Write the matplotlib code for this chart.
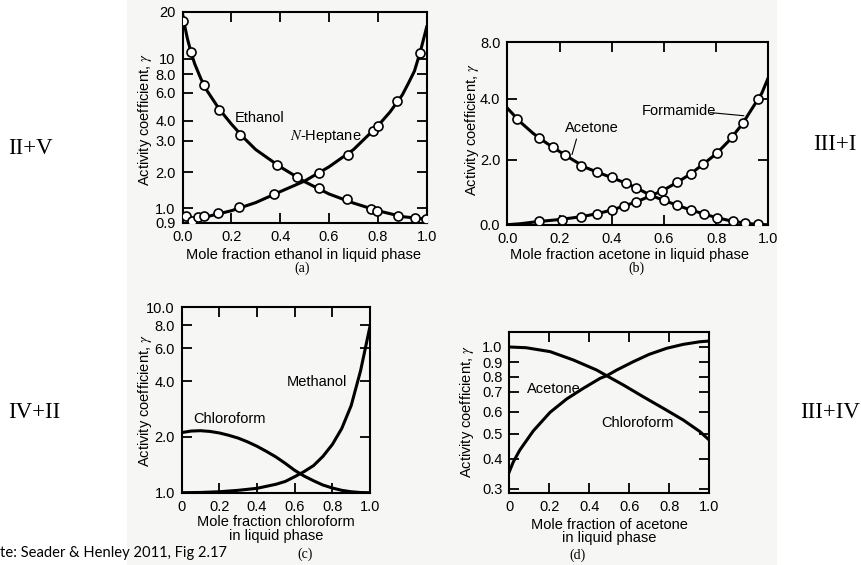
import numpy as np
import matplotlib
matplotlib.use("Agg")
import matplotlib.pyplot as plt
from matplotlib.patches import Rectangle

plt.rcParams['font.family'] = ['Liberation Sans', 'DejaVu Sans']
plt.rcParams['mathtext.fontset'] = 'stix'

W, H = 861, 565

# ---------------- data ----------------
# (a) ethanol / n-heptane
a_x_eth_pts = [0.0, 0.034, 0.089, 0.151, 0.236, 0.389, 0.468, 0.559, 0.673, 0.771, 0.798, 0.881, 0.953, 0.996]
a_g_eth_pts = [17.4, 11.0, 6.77, 4.69, 3.27, 2.19, 1.81, 1.46, 1.18, 0.99, 0.981, 0.945, 0.934, 0.926]
a_x_hep_pts = [0.015, 0.038, 0.063, 0.086, 0.147, 0.233, 0.376, 0.559, 0.679, 0.781, 0.80, 0.88, 0.973]
a_g_hep_pts = [0.945, 0.915, 0.937, 0.945, 0.963, 1.013, 1.30, 1.95, 2.50, 3.46, 3.72, 5.35, 10.9]
a_x_eth_curve = [0.0, 0.01, 0.02, 0.035, 0.05, 0.075, 0.1, 0.15, 0.2, 0.25, 0.3, 0.4, 0.5, 0.6, 0.7, 0.8, 0.9, 1.0]
a_g_eth_curve = [19.5, 16.0, 13.5, 11.0, 9.3, 7.46, 6.23, 4.76, 3.83, 3.15, 2.68, 2.14, 1.66, 1.31, 1.10, 0.981, 0.941, 0.925]
a_x_hep_curve = [0.0, 0.05, 0.1, 0.2, 0.3, 0.4, 0.5, 0.6, 0.7, 0.8, 0.85, 0.9, 0.925, 0.95, 0.975, 1.0]
a_g_hep_curve = [0.922, 0.927, 0.941, 0.981, 1.11, 1.37, 1.68, 2.14, 2.68, 3.73, 4.56, 5.83, 6.95, 8.37, 11.3, 16.0]
a_xticks = [0.0, 0.2, 0.4, 0.6, 0.8, 1.0]
a_xticklabels = ['0.0', '0.2', '0.4', '0.6', '0.8', '1.0']
a_yticks = [0.9, 1.0, 2.0, 3.0, 4.0, 6.0, 8.0, 10, 20]
a_yticklabels = ['0.9', '1.0', '2.0', '3.0', '4.0', '6.0', '8.0', '10', '20']

# (b) acetone / formamide
b_x_ace_pts = [0.036, 0.123, 0.176, 0.221, 0.281, 0.345, 0.40, 0.454, 0.493, 0.547, 0.60, 0.649, 0.704, 0.754, 0.805, 0.864, 0.911, 0.962]
b_g_ace_pts = [3.35, 2.71, 2.41, 2.16, 1.80, 1.62, 1.46, 1.28, 1.14, 0.90, 0.75, 0.60, 0.45, 0.33, 0.21, 0.11, 0.05, 0.01]
b_x_for_pts = [0.123, 0.208, 0.281, 0.345, 0.40, 0.447, 0.493, 0.594, 0.651, 0.703, 0.751, 0.805, 0.860, 0.904, 0.962]
b_g_for_pts = [0.105, 0.154, 0.24, 0.34, 0.45, 0.57, 0.70, 1.05, 1.31, 1.56, 1.87, 2.22, 2.74, 3.21, 4.0]
b_x_ace_curve = [0.0, 0.05, 0.1, 0.15, 0.2, 0.25, 0.3, 0.35, 0.4, 0.45, 0.5, 0.55, 0.6, 0.65, 0.7, 0.75, 0.8, 0.85, 0.9, 0.95, 0.99]
b_g_ace_curve = [3.70, 3.24, 2.86, 2.55, 2.27, 2.00, 1.76, 1.60, 1.45, 1.29, 1.11, 0.90, 0.75, 0.60, 0.46, 0.34, 0.22, 0.13, 0.06, 0.015, 0.0]
b_x_for_curve = [0.0, 0.05, 0.1, 0.15, 0.2, 0.25, 0.3, 0.35, 0.4, 0.45, 0.5, 0.55, 0.6, 0.65, 0.7, 0.75, 0.8, 0.85, 0.9, 0.95, 0.975, 1.0]
b_g_for_curve = [0.0, 0.03, 0.08, 0.12, 0.16, 0.21, 0.27, 0.35, 0.45, 0.58, 0.72, 0.89, 1.07, 1.30, 1.55, 1.86, 2.19, 2.63, 3.17, 3.85, 4.4, 5.5]
b_xticks = [0.0, 0.2, 0.4, 0.6, 0.8, 1.0]
b_xticklabels = ['0.0', '0.2', '0.4', '0.6', '0.8', '1.0']
b_yticks = [0.0, 2.0, 4.0, 8.0]
b_yticklabels = ['0.0', '2.0', '4.0', '8.0']

# (c) chloroform / methanol
c_x_met = [0.0, 0.1, 0.2, 0.3, 0.4, 0.5, 0.55, 0.6, 0.65, 0.7, 0.75, 0.8, 0.85, 0.9, 0.95, 1.0]
c_g_met = [1.0, 1.003, 1.012, 1.03, 1.056, 1.11, 1.15, 1.22, 1.30, 1.40, 1.57, 1.82, 2.22, 2.95, 4.55, 7.9]
c_x_chl = [0.0, 0.05, 0.1, 0.15, 0.2, 0.25, 0.3, 0.35, 0.4, 0.45, 0.5, 0.55, 0.6, 0.65, 0.7, 0.75, 0.8, 0.85, 0.9, 0.95, 1.0]
c_g_chl = [2.11, 2.15, 2.16, 2.14, 2.10, 2.04, 1.97, 1.88, 1.78, 1.67, 1.56, 1.44, 1.32, 1.23, 1.16, 1.10, 1.06, 1.03, 1.012, 1.002, 1.0]
c_xticks = [0.0, 0.2, 0.4, 0.6, 0.8, 1.0]
c_xticklabels = ['0', '0.2', '0.4', '0.6', '0.8', '1.0']
c_yticks = [1.0, 2.0, 4.0, 6.0, 8.0, 10.0]
c_yticklabels = ['1.0', '2.0', '4.0', '6.0', '8.0', '10.0']

# (d) acetone / chloroform
d_x_ace = [0.0, 0.02, 0.053, 0.12, 0.204, 0.287, 0.37, 0.454, 0.487, 0.537, 0.62, 0.70, 0.787, 0.87, 0.953, 1.0]
d_g_ace = [0.354, 0.389, 0.433, 0.511, 0.596, 0.661, 0.720, 0.787, 0.805, 0.843, 0.902, 0.950, 0.991, 1.022, 1.044, 1.05]
d_x_chl = [0.0, 0.084, 0.204, 0.32, 0.437, 0.487, 0.57, 0.67, 0.77, 0.87, 0.953, 1.0]
d_g_chl = [1.0, 0.995, 0.968, 0.913, 0.843, 0.805, 0.742, 0.672, 0.615, 0.559, 0.508, 0.472]
d_xticks = [0.0, 0.2, 0.4, 0.6, 0.8, 1.0]
d_xticklabels = ['0', '0.2', '0.4', '0.6', '0.8', '1.0']
d_yticks = [0.3, 0.4, 0.5, 0.6, 0.7, 0.8, 0.9, 1.0]
d_yticklabels = ['0.3', '0.4', '0.5', '0.6', '0.7', '0.8', '0.9', '1.0']

# ---------------- layout helpers ----------------
fig = plt.figure(figsize=(W / 100, H / 100), dpi=100)
fig.patch.set_facecolor('white')


def fx(x):
    return x / W


def fy(y):
    return 1 - y / H


def add_ax(x0, x1, top, bottom):
    ax = fig.add_axes([fx(x0), fy(bottom), (x1 - x0) / W, (bottom - top) / H])
    ax.set_facecolor('none')
    for s in ax.spines.values():
        s.set_linewidth(1.5)
    ax.tick_params(direction='in', length=7, width=1.3, top=True, right=True,
                   labelsize=10.5, pad=5)
    ax.minorticks_off()
    return ax


def piecewise_log_scale(ax, knots, pos):
    lk = np.log10(knots)

    def fwd(v):
        v = np.asarray(v, dtype=float)
        with np.errstate(divide='ignore', invalid='ignore'):
            lv = np.log10(np.where(v > 0, v, knots[0]))
        return np.interp(lv, lk, pos)

    def inv(p):
        return 10 ** np.interp(p, pos, lk)

    ax.set_yscale('function', functions=(fwd, inv))


# scanned page background
fig.patches.append(Rectangle((fx(127), 0), fx(777) - fx(127), 1, transform=fig.transFigure,
                             facecolor='#f6f6f4', edgecolor='none', zorder=-10))

LW = 2.2
MK = dict(marker='o', ms=6.5, mfc='white', mec='black', mew=1.2, ls='none', zorder=5)
TXT = dict(fontsize=10.5)
ylab = "Activity coefficient, $\\gamma$"

# ---------------- (a) ----------------
ax = add_ax(182.5, 426.7, 11.7, 223)
piecewise_log_scale(ax, [0.9, 1.0, 2.0, 3.0, 4.0, 6.0, 8.0, 10.0, 20.0],
                    [0, 15, 51, 82, 102, 130, 149, 164, 211.3])
ax.plot(a_x_eth_curve, a_g_eth_curve, color='black', lw=LW)
ax.plot(a_x_hep_curve, a_g_hep_curve, color='black', lw=LW)
ax.plot(a_x_eth_pts, a_g_eth_pts, **MK)
ax.plot(a_x_hep_pts, a_g_hep_pts, **MK)
ax.set_xlim(0, 1.0)
ax.set_ylim(0.9, 20)
ax.set_xticks(a_xticks)
ax.set_xticklabels(a_xticklabels)
ax.set_yticks(a_yticks)
ax.set_yticklabels(a_yticklabels)
ax.minorticks_off()
ax.text(0.215, 4.2, 'Ethanol', va='center', ha='left', **TXT)
ax.text(0.44, 3.18, '$N$-Heptane', va='center', ha='left', **TXT)
fig.text(fx(145), fy(120), ylab, rotation=90, ha='center', va='center', **TXT)
fig.text(fx(304), fy(255), 'Mole fraction ethanol in liquid phase', ha='center', va='center', **TXT)
fig.text(fx(302), fy(268), '(a)', ha='center', va='center', fontsize=10, family='Liberation Serif')

# ---------------- (b) ----------------
ax = add_ax(507.3, 768.3, 42, 224.7)
bp = [0.0, 2.0, 4.0, 8.0]
bq = [0.0, 65.0, 125.7, 182.7]
ax.set_yscale('function', functions=(lambda v: np.interp(v, bp, bq),
                                     lambda p: np.interp(p, bq, bp)))
ax.plot(b_x_ace_curve, b_g_ace_curve, color='black', lw=LW)
ax.plot(b_x_for_curve, b_g_for_curve, color='black', lw=LW)
ax.plot(b_x_ace_pts, b_g_ace_pts, **MK)
ax.plot(b_x_for_pts, b_g_for_pts, **MK)
ax.set_xlim(0, 1.0)
ax.set_ylim(0, 8)
ax.set_xticks(b_xticks)
ax.set_xticklabels(b_xticklabels)
ax.set_yticks(b_yticks)
ax.set_yticklabels(b_yticklabels)
ax.minorticks_off()
ax.text(0.221, 3.04, 'Acetone', va='center', ha='left', **TXT)
ax.annotate('', xy=(0.245, 2.08), xytext=(0.268, 2.77),
            arrowprops=dict(arrowstyle='-', lw=0.8, color='black'))
ax.text(0.515, 3.59, 'Formamide', va='center', ha='left', **TXT)
ax.annotate('', xy=(0.917, 3.44), xytext=(0.768, 3.56),
            arrowprops=dict(arrowstyle='-', lw=0.8, color='black'))
fig.text(fx(471.7), fy(130), ylab, rotation=90, ha='center', va='center', **TXT)
fig.text(fx(630), fy(255), 'Mole fraction acetone in liquid phase', ha='center', va='center', **TXT)
fig.text(fx(636), fy(268), '(b)', ha='center', va='center', fontsize=10, family='Liberation Serif')

# ---------------- (c) ----------------
ax = add_ax(181.7, 370, 307.3, 492.7)
ax.set_yscale('log')
ax.plot(c_x_met, c_g_met, color='black', lw=LW)
ax.plot(c_x_chl, c_g_chl, color='black', lw=LW)
ax.set_xlim(0, 1.0)
ax.set_ylim(1.0, 10.0)
ax.set_xticks(c_xticks)
ax.set_xticklabels(c_xticklabels)
ax.set_yticks(c_yticks)
ax.set_yticklabels(c_yticklabels)
ax.minorticks_off()
ax.text(0.56, 3.97, 'Methanol', va='center', ha='left', **TXT)
ax.text(0.062, 2.49, 'Chloroform', va='center', ha='left', **TXT)
fig.text(fx(145), fy(401), ylab, rotation=90, ha='center', va='center', **TXT)
fig.text(fx(276), fy(522), 'Mole fraction chloroform', ha='center', va='center', **TXT)
fig.text(fx(276), fy(536), 'in liquid phase', ha='center', va='center', **TXT)
fig.text(fx(305), fy(554), '(c)', ha='center', va='center', fontsize=10, family='Liberation Serif')

# ---------------- (d) ----------------
ax = add_ax(509.3, 709.3, 332.3, 493)
piecewise_log_scale(ax, [0.289, 0.3, 0.4, 0.5, 0.6, 0.7, 0.8, 0.9, 1.0, 1.128],
                    [0, 4, 34, 59.5, 81.5, 101.5, 116.5, 131, 146, 160.7])
ax.plot(d_x_ace, d_g_ace, color='black', lw=LW)
ax.plot(d_x_chl, d_g_chl, color='black', lw=LW)
ax.set_xlim(0, 1.0)
ax.set_ylim(0.289, 1.128)
ax.set_xticks(d_xticks)
ax.set_xticklabels(d_xticklabels)
ax.set_yticks(d_yticks)
ax.set_yticklabels(d_yticklabels)
ax.minorticks_off()
ax.text(0.087, 0.718, 'Acetone', va='center', ha='left', **TXT)
ax.text(0.462, 0.544, 'Chloroform', va='center', ha='left', **TXT)
fig.text(fx(467), fy(412), ylab, rotation=90, ha='center', va='center', **TXT)
fig.text(fx(609), fy(525), 'Mole fraction of acetone', ha='center', va='center', **TXT)
fig.text(fx(609), fy(538), 'in liquid phase', ha='center', va='center', **TXT)
fig.text(fx(578), fy(555), '(d)', ha='center', va='center', fontsize=10, family='Liberation Serif')

# ---------------- side labels & note ----------------
SIDE = dict(fontsize=16.5, family='Liberation Serif', va='center', ha='left')
fig.text(fx(8), fy(148), 'II+V', **SIDE)
fig.text(fx(813), fy(145), 'III+I', **SIDE)
fig.text(fx(8), fy(412), 'IV+II', **SIDE)
fig.text(fx(800), fy(412), 'III+IV', **SIDE)
fig.text(fx(0), fy(553), 'te: Seader & Henley 2011, Fig 2.17', ha='left', va='center',
         fontsize=10.6, family=['Lato', 'DejaVu Sans'])

fig.savefig('out.png', dpi=100)
